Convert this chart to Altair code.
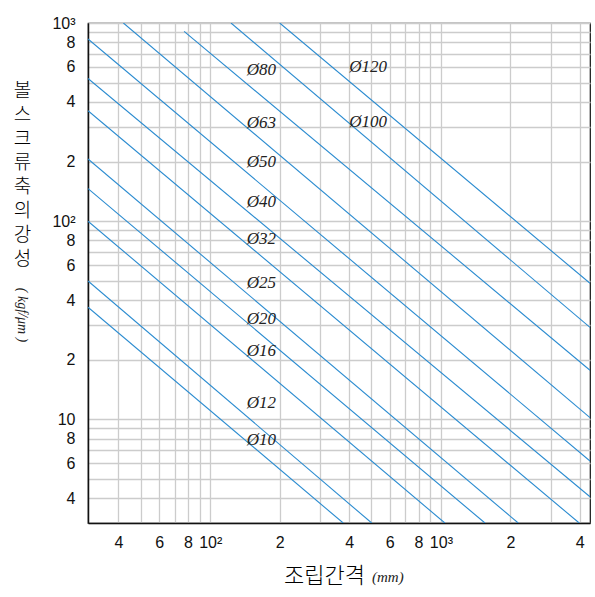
import altair as alt
import pandas as pd

# Ball screw shaft sizes and the end points of each stiffness line
sizes = ["Ø10", "Ø12", "Ø16", "Ø20", "Ø25", "Ø32", "Ø40", "Ø50", "Ø63", "Ø80", "Ø100", "Ø120"]
start_len = [29.5, 29.5, 29.5, 29.5, 29.5, 29.5, 29.5, 29.5, 42, 77, 123, 200]
start_k = [36.8, 49.9, 100, 146, 206, 361, 525, 830, 1000, 907, 1000, 1000]
end_len = [377, 501, 1040, 1552, 2163, 3977, 4430, 4430, 4430, 4430, 4430, 4430]
end_k = [3, 3, 3, 3, 3, 3, 4.07, 6.16, 10.2, 17.7, 29.1, 48.6]

# label anchor positions (data coordinates)
label_len = [143.8, 143.8, 143.8, 143.8, 143.8, 143.8, 143.8, 143.8, 143.8, 143.8, 400, 400]
label_k = [7.86, 12.1, 22.2, 32.1, 49, 81.1, 125.6, 198.6, 312.6, 581, 318, 597]

x_grid = [40, 50, 60, 70, 80, 90, 100, 200, 300, 400, 500, 600, 700, 800, 900,
          1000, 2000, 3000, 4000]
y_grid = [3, 4, 5, 6, 7, 8, 9, 10, 20, 30, 40, 50, 60, 70, 80, 90,
          100, 200, 300, 400, 500, 600, 700, 800, 900, 1000]
x_tick_values = [40, 60, 80, 100, 200, 400, 600, 800, 1000, 2000, 4000]
x_tick_labels = ["4", "6", "8", "10²", "2", "4", "6", "8", "10³", "2", "4"]
y_tick_values = [1000, 800, 600, 400, 200, 100, 80, 60, 40, 20, 10, 8, 6, 4]
y_tick_labels = ["10³", "8", "6", "4", "2", "10²", "8", "6", "4", "2", "10", "8", "6", "4"]

x_title = "조립간격"
x_unit = "(mm)"
y_title = ["볼", "스", "크", "류", "축", "의", "강", "성"]
y_unit = "( kgf/μm )"

rows = []
for s, l0, k0, l1, k1 in zip(sizes, start_len, start_k, end_len, end_k):
    rows.append({"size": s, "L": l0, "K": k0})
    rows.append({"size": s, "L": l1, "K": k1})
lines_df = pd.DataFrame(rows)
labels_df = pd.DataFrame({"size": sizes, "L": label_len, "K": label_k})


def label_expr(values, labels):
    expr = "''"
    for v, t in zip(values, labels):
        expr = f"datum.value == {v} ? '{t}' : ({expr})"
    return expr


x_scale = alt.Scale(type="log", domain=[29.5, 4430], nice=False)
y_scale = alt.Scale(type="log", domain=[3, 1000], nice=False)

common_axis = dict(
    grid=True, gridColor="#cccccc", gridWidth=1.3, ticks=False, tickSize=0,
    labelFont="Liberation Sans", labelFontSize=16, labelColor="#111",
    domainColor="#111", domainWidth=1.5, labelOverlap=False, labelFlush=False,
    labelBound=False,
)

x_axis = alt.Axis(
    values=x_grid, labelExpr=label_expr(x_tick_values, x_tick_labels),
    labelPadding=11, title=x_title, titleFont="Noto Sans CJK KR", titleFontSize=22,
    titleFontWeight=300, titleColor="#000", titleX=236, titleY=52,
    titleAlign="center", titleBaseline="middle", **common_axis,
)
y_axis = alt.Axis(
    values=y_grid, labelExpr=label_expr(y_tick_values, y_tick_labels),
    labelPadding=13, title=y_title, titleAngle=0, titleFont="Noto Sans CJK KR",
    titleFontSize=19, titleFontWeight=300, titleColor="#000", titleX=-66,
    titleY=58, titleAlign="center", titleBaseline="top", titleLineHeight=24,
    **common_axis,
)

lines = alt.Chart(lines_df).mark_line(color="#2a8bd0", strokeWidth=1.1, clip=True).encode(
    x=alt.X("L:Q", scale=x_scale, axis=x_axis),
    y=alt.Y("K:Q", scale=y_scale, axis=y_axis),
    detail="size:N",
)

labels = alt.Chart(labels_df).mark_text(
    align="left", baseline="middle", font="Liberation Serif", fontStyle="italic",
    fontSize=17, color="#222",
).encode(x=alt.X("L:Q", scale=x_scale), y=alt.Y("K:Q", scale=y_scale), text="size:N")

anno = alt.Data(values=[{}])
x_unit_text = alt.Chart(anno).mark_text(
    text=x_unit, font="Liberation Serif", fontStyle="italic", fontSize=15,
    align="left", baseline="middle", color="#222",
).encode(x=alt.value(284), y=alt.value(554))

y_unit_text = alt.Chart(anno).mark_text(
    text=y_unit, font="Liberation Serif", fontStyle="italic", fontSize=14,
    align="center", baseline="middle", angle=90, color="#222",
).encode(x=alt.value(-66), y=alt.value(292))

chart = alt.layer(lines, labels, x_unit_text, y_unit_text).properties(
    width=502, height=500,
    autosize=alt.AutoSizeParams(type="none"),
    padding={"left": 88, "top": 23, "right": 5, "bottom": 74},
    background="white",
).configure_view(stroke="#111", strokeWidth=1.2)

chart.save("out.html", embed_options={"renderer": "svg", "actions": False})
